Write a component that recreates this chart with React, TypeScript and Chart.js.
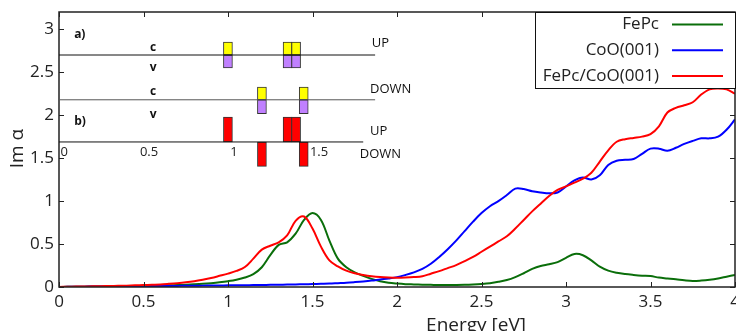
import { useEffect, useRef } from "react";
import { Chart, registerables } from "chart.js";

Chart.register(...registerables);
Chart.defaults.font.family = "'Open Sans', sans-serif";

// ---------- main spectrum data ----------
const energies = [
  0, 0.05, 0.1, 0.15, 0.2, 0.25, 0.3, 0.35, 0.4, 0.45,
  0.5, 0.55, 0.6, 0.65, 0.7, 0.75, 0.8, 0.85, 0.9, 0.95,
  1, 1.05, 1.1, 1.15, 1.2, 1.25, 1.3, 1.35, 1.4, 1.45,
  1.5, 1.55, 1.6, 1.65, 1.7, 1.75, 1.8, 1.85, 1.9, 1.95,
  2, 2.05, 2.1, 2.15, 2.2, 2.25, 2.3, 2.35, 2.4, 2.45,
  2.5, 2.55, 2.6, 2.65, 2.7, 2.75, 2.8, 2.85, 2.9, 2.95,
  3, 3.05, 3.1, 3.15, 3.2, 3.25, 3.3, 3.35, 3.4, 3.45,
  3.5, 3.55, 3.6, 3.65, 3.7, 3.75, 3.8, 3.85, 3.9, 3.95, 4,
];

const fepc = [
  0, 0.002, 0.003, 0.004, 0.005, 0.006, 0.007, 0.008, 0.009, 0.01,
  0.012, 0.014, 0.016, 0.019, 0.022, 0.026, 0.031, 0.037, 0.045, 0.055,
  0.068, 0.085, 0.11, 0.15, 0.23, 0.37, 0.49, 0.52, 0.62, 0.78,
  0.86, 0.78, 0.54, 0.33, 0.23, 0.17, 0.13, 0.095, 0.068, 0.05,
  0.04, 0.033, 0.03, 0.027, 0.025, 0.023, 0.023, 0.024, 0.026, 0.03,
  0.036, 0.045, 0.06, 0.081, 0.115, 0.16, 0.21, 0.245, 0.265, 0.29,
  0.34, 0.384, 0.37, 0.31, 0.236, 0.19, 0.165, 0.15, 0.14, 0.132,
  0.127, 0.11, 0.1, 0.09, 0.078, 0.07, 0.075, 0.085, 0.1, 0.12, 0.14,
];

const coo = [
  0, 0.002, 0.003, 0.004, 0.005, 0.006, 0.007, 0.007, 0.008, 0.009,
  0.01, 0.011, 0.012, 0.012, 0.013, 0.014, 0.015, 0.016, 0.017, 0.018,
  0.019, 0.02, 0.021, 0.022, 0.024, 0.025, 0.027, 0.028, 0.03, 0.032,
  0.034, 0.037, 0.04, 0.045, 0.05, 0.057, 0.065, 0.075, 0.088, 0.1,
  0.115, 0.14, 0.17, 0.21, 0.27, 0.35, 0.44, 0.54, 0.65, 0.76,
  0.86, 0.94, 1.0, 1.07, 1.145, 1.14, 1.115, 1.1, 1.09, 1.1,
  1.17, 1.24, 1.275, 1.25, 1.3, 1.42, 1.47, 1.48, 1.49, 1.55,
  1.61, 1.61, 1.585, 1.62, 1.665, 1.7, 1.73, 1.73, 1.75, 1.83, 1.95,
];

const fepcCoo = [
  0, 0.003, 0.005, 0.006, 0.008, 0.01, 0.012, 0.014, 0.016, 0.019,
  0.022, 0.026, 0.03, 0.037, 0.045, 0.055, 0.068, 0.085, 0.105, 0.13,
  0.156, 0.187, 0.232, 0.33, 0.435, 0.48, 0.52, 0.6, 0.77, 0.82,
  0.68, 0.47, 0.31, 0.24, 0.19, 0.16, 0.14, 0.125, 0.115, 0.11,
  0.108, 0.11, 0.115, 0.125, 0.155, 0.185, 0.22, 0.255, 0.3, 0.35,
  0.41, 0.47, 0.53, 0.59, 0.68, 0.78, 0.88, 0.97, 1.06, 1.13,
  1.17, 1.215, 1.26, 1.33, 1.46, 1.59, 1.69, 1.72, 1.735, 1.75,
  1.78, 1.87, 2.03, 2.085, 2.115, 2.15, 2.24, 2.3, 2.31, 2.3, 2.25,
];

const seriesLabels = ["FePc", "CoO(001)", "FePc/CoO(001)"];
const seriesColors = ["#0a6e0a", "#0000ff", "#ff0000"];
const xTicks = [0, 0.5, 1, 1.5, 2, 2.5, 3, 3.5, 4];
const yTicks = [0, 0.5, 1, 1.5, 2, 2.5, 3];
const xTitle = "Energy [eV]";
const yTitle = "Im α";

// ---------- inset (energy level diagram) data ----------
const insetTicks = [0, 0.5, 1, 1.5];
const upStates = [0.964, 1.315, 1.365];
const downStates = [1.164, 1.41];
const levelAUp = 2;
const levelADown = 0.97;
const levelB = 0;
const lineLevels = [levelAUp, levelADown, levelB];
const lineStart = -0.03;
const lineEnds = [1.83, 1.83, 1.76];
const lineColors = ["#111", "#555", "#111"];
const insetLabelText = ["a)", "c", "v", "c", "v", "b)", "UP", "DOWN", "UP", "DOWN"];
const insetLabelX = [0.059, 0.524, 0.524, 0.524, 0.524, 0.059, 1.81, 1.8, 1.8, 1.74];
const insetLabelY = [2.46, 2.18, 1.7, 1.15, 0.64, 0.46, 2.28, 1.22, 0.25, -0.28];
const insetLabelBold = [true, true, true, true, true, true, false, false, false, false];
const insetLabelAlign: CanvasTextAlign[] = ["left", "center", "center", "center", "center", "left", "left", "left", "left", "left"];
const insetTickLabelY = -0.23;

const framePlugin = {
  id: "frameAndLegend",
  afterDatasetsDraw(chart: any) {
    const { ctx, chartArea: a, scales } = chart;
    ctx.save();
    ctx.strokeStyle = "#222";
    ctx.lineWidth = 1.5;
    ctx.strokeRect(a.left, a.top, a.right - a.left, a.bottom - a.top);
    ctx.lineWidth = 1;
    ctx.beginPath();
    for (const v of xTicks) {
      const px = Math.round(scales.x.getPixelForValue(v)) + 0.5;
      ctx.moveTo(px, a.bottom);
      ctx.lineTo(px, a.bottom - 5);
      ctx.moveTo(px, a.top);
      ctx.lineTo(px, a.top + 5);
    }
    for (const v of yTicks) {
      const py = Math.round(scales.y.getPixelForValue(v)) + 0.5;
      ctx.moveTo(a.left, py);
      ctx.lineTo(a.left + 5, py);
      ctx.moveTo(a.right, py);
      ctx.lineTo(a.right - 5, py);
    }
    ctx.stroke();

    // legend
    const bw = 200;
    const bh = 76;
    const bx = a.right - bw;
    const by = a.top;
    ctx.fillStyle = "#fff";
    ctx.fillRect(bx, by, bw, bh);
    ctx.strokeStyle = "#111";
    ctx.lineWidth = 1;
    ctx.strokeRect(Math.round(bx) + 0.5, Math.round(by) + 0.5, bw, bh);
    ctx.font = "17px 'Open Sans', sans-serif";
    ctx.textAlign = "right";
    ctx.textBaseline = "middle";
    seriesLabels.forEach((lab, i) => {
      const y = by + 12.5 + i * 25.8;
      ctx.fillStyle = "#222";
      ctx.fillText(lab, bx + 124, y);
      ctx.strokeStyle = seriesColors[i];
      ctx.lineWidth = 2;
      ctx.beginPath();
      ctx.moveTo(bx + 137, y);
      ctx.lineTo(bx + 188, y);
      ctx.stroke();
    });

    // axis titles
    ctx.fillStyle = "#222";
    ctx.font = "19px 'Open Sans', sans-serif";
    ctx.textAlign = "center";
    ctx.textBaseline = "alphabetic";
    ctx.fillText(xTitle, (a.left + a.right) / 2 + 79, 331);
    ctx.translate(23, (a.top + a.bottom) / 2 - 1);
    ctx.rotate(-Math.PI / 2);
    ctx.fillText(yTitle, 0, 0);
    ctx.restore();
  },
};

const insetTextPlugin = {
  id: "insetText",
  afterDraw(chart: any) {
    const { ctx, scales } = chart;
    ctx.save();
    ctx.fillStyle = "#111";
    ctx.textBaseline = "middle";
    insetLabelText.forEach((t, i) => {
      ctx.font = insetLabelBold[i] ? "bold 12px 'Open Sans', sans-serif" : "13px 'Open Sans', sans-serif";
      ctx.textAlign = insetLabelAlign[i];
      ctx.fillText(t, scales.x.getPixelForValue(insetLabelX[i]), scales.y.getPixelForValue(insetLabelY[i]));
    });
    ctx.font = "13px 'Open Sans', sans-serif";
    ctx.textAlign = "center";
    ctx.fillStyle = "#222";
    insetTicks.forEach((v) => {
      ctx.fillText(String(v), scales.x.getPixelForValue(v), scales.y.getPixelForValue(insetTickLabelY));
    });
    ctx.restore();
  },
};

export default function App() {
  const mainRef = useRef<HTMLCanvasElement>(null);
  const insetRef = useRef<HTMLCanvasElement>(null);

  useEffect(() => {
    const series = [fepc, coo, fepcCoo];
    const main = new Chart(mainRef.current!, {
      type: "line",
      data: {
        datasets: series.map((vals, i) => ({
          label: seriesLabels[i],
          data: energies.map((x, j) => ({ x, y: vals[j] })),
          borderColor: seriesColors[i],
          borderWidth: 2,
          pointRadius: 0,
          tension: 0.35,
          fill: false,
          order: 3 - i,
        })),
      },
      options: {
        animation: false,
        responsive: false,
        maintainAspectRatio: false,
        events: [],
        layout: { autoPadding: false, padding: { top: 12, right: 1, left: 0, bottom: 0 } },
        plugins: { legend: { display: false }, tooltip: { enabled: false } },
        scales: {
          x: {
            type: "linear",
            min: 0,
            max: 4,
            afterBuildTicks: (s: any) => {
              s.ticks = xTicks.map((v) => ({ value: v }));
            },
            afterFit: (s: any) => {
              s.height = 44;
              s.paddingLeft = 0;
              s.paddingRight = 0;
            },
            grid: { display: false, drawTicks: false },
            border: { display: false },
            ticks: {
              font: { size: 17 },
              color: "#222",
              padding: 5,
              maxRotation: 0,
              autoSkip: false,
              callback: (v: any) => String(v),
            },
          },
          y: {
            type: "linear",
            min: 0,
            max: 3.2,
            afterBuildTicks: (s: any) => {
              s.ticks = yTicks.map((v) => ({ value: v }));
            },
            afterFit: (s: any) => {
              s.width = 59;
              s.paddingTop = 0;
              s.paddingBottom = 0;
            },
            grid: { display: false, drawTicks: false },
            border: { display: false },
            ticks: { font: { size: 17 }, color: "#222", padding: 5, autoSkip: false, callback: (v: any) => String(v) },
          },
        },
      },
      plugins: [framePlugin],
    });

    const barCommon = {
      type: "bar" as const,
      barThickness: 9,
      grouped: false,
      borderWidth: 1,
      borderColor: "#333",
      borderSkipped: false as const,
    };
    const inset = new Chart(insetRef.current!, {
      type: "bar",
      data: {
        datasets: [
          ...lineLevels.map((lv, i) => ({
            type: "line" as const,
            data: [
              { x: lineStart, y: lv },
              { x: lineEnds[i], y: lv },
            ],
            borderColor: lineColors[i],
            borderWidth: 1,
            pointRadius: 0,
            clip: false as const,
          })),
          { ...barCommon, data: upStates.map((x) => ({ x, y: [levelAUp, levelAUp + 0.3] })), backgroundColor: "#ffff00" },
          { ...barCommon, data: upStates.map((x) => ({ x, y: [levelAUp - 0.3, levelAUp] })), backgroundColor: "#c080ff" },
          { ...barCommon, data: downStates.map((x) => ({ x, y: [levelADown, levelADown + 0.29] })), backgroundColor: "#ffff00" },
          { ...barCommon, data: downStates.map((x) => ({ x, y: [levelADown - 0.32, levelADown] })), backgroundColor: "#c080ff" },
          { ...barCommon, data: upStates.map((x) => ({ x, y: [levelB, levelB + 0.57] })), backgroundColor: "#ff0000" },
          { ...barCommon, data: downStates.map((x) => ({ x, y: [levelB - 0.56, levelB] })), backgroundColor: "#ff0000" },
        ] as any,
      },
      options: {
        animation: false,
        responsive: false,
        maintainAspectRatio: false,
        events: [],
        layout: { autoPadding: false, padding: { left: 59, top: 25, right: 298, bottom: 156 } },
        plugins: { legend: { display: false }, tooltip: { enabled: false } },
        scales: {
          x: { type: "linear", min: -0.03, max: 2.2, display: false, offset: false },
          y: { type: "linear", min: -0.76, max: 2.69, display: false },
        },
      },
      plugins: [insetTextPlugin],
    });

    return () => {
      main.destroy();
      inset.destroy();
    };
  }, []);

  return (
    <div style={{ position: "fixed", left: 0, top: 0, width: 736, height: 331, background: "#fff" }}>
      <canvas ref={mainRef} width={736} height={331} style={{ position: "absolute", left: 0, top: 0 }} />
      <canvas
        ref={insetRef}
        width={736}
        height={331}
        style={{ position: "absolute", left: 0, top: 0, pointerEvents: "none" }}
      />
    </div>
  );
}
